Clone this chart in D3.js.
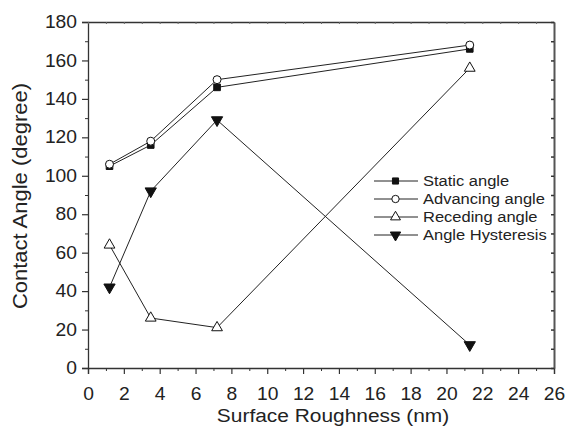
<!DOCTYPE html>
<html>
<head>
<meta charset="utf-8">
<script src="https://cdn.jsdelivr.net/npm/d3@7"></script>
<style>
  body { margin: 0; background: #fff; overflow: hidden; }
  svg { display: block; }
  text { font-family: "Liberation Sans", Arial, sans-serif; fill: #222; }
</style>
</head>
<body>
<svg></svg>
<script>
const width = 568, height = 430;

// data
const roughness = [1.2, 3.5, 7.2, 21.3];
const staticAngle = [105, 116, 146, 166];
const advancingAngle = [106, 118, 150, 168];
const recedingAngle = [64, 26, 21, 156];
const hysteresis = [42, 92, 129, 12];
const seriesNames = ["Static angle", "Advancing angle", "Receding angle", "Angle Hysteresis"];
const xTicks = d3.range(0, 27, 2);
const yTicks = d3.range(0, 181, 20);

const margin = {top: 22, left: 88, right: 14, bottom: 62};
const innerWidth = width - margin.left - margin.right;
const innerHeight = height - margin.top - margin.bottom;

const svg = d3.select("svg").attr("width", width).attr("height", height);
const g = svg.append("g").attr("transform", `translate(${margin.left},${margin.top})`);

const xScale = d3.scaleLinear().domain([0, 26]).range([0, innerWidth]);
const yScale = d3.scaleLinear().domain([0, 180]).range([innerHeight, 0]);

const axisColor = "#333";
const stretch = 1.1; // the source font is a bit wider than Liberation Sans

// minor ticks
const xMinor = d3.range(1, 26, 2);
const yMinor = d3.range(10, 180, 20);

const xAxis = d3.axisBottom(xScale).tickValues(xTicks).tickSize(6).tickPadding(14).tickFormat(d3.format("d"));
const yAxis = d3.axisLeft(yScale).tickValues(yTicks).tickSize(6).tickPadding(5).tickFormat(d3.format("d"));

const xAxisG = g.append("g").attr("transform", `translate(0,${innerHeight})`).call(xAxis);
const yAxisG = g.append("g").call(yAxis);
[xAxisG, yAxisG].forEach(a => {
  a.select(".domain").attr("stroke", axisColor).attr("stroke-width", 1.3);
  a.selectAll(".tick line").attr("stroke", axisColor).attr("stroke-width", 1.2);
  a.selectAll("text").style("font-size", "17.5px").attr("fill", "#222");
});
xAxisG.selectAll("text").attr("transform", `scale(${stretch},1)`);
yAxisG.selectAll("text").attr("x", -11 / stretch).attr("transform", `scale(${stretch},1)`);

// tick-only axes: drop the empty labels d3 makes
const noLabels = a => a.selectAll("text").remove();

g.append("g").attr("transform", `translate(0,${innerHeight})`)
  .call(d3.axisBottom(xScale).tickValues(xMinor).tickSize(3).tickFormat(""))
  .call(a => a.select(".domain").remove())
  .call(noLabels)
  .selectAll("line").attr("stroke", axisColor);
g.append("g")
  .call(d3.axisLeft(yScale).tickValues(yMinor).tickSize(3).tickFormat(""))
  .call(a => a.select(".domain").remove())
  .call(noLabels)
  .selectAll("line").attr("stroke", axisColor);

// top and right mirrored axes with small inner ticks
g.append("g")
  .call(d3.axisBottom(xScale).tickValues(d3.range(0, 27, 1)).tickSize(2).tickSizeOuter(0).tickFormat(""))
  .call(a => a.select(".domain").attr("stroke", axisColor).attr("stroke-width", 1.3))
  .call(noLabels)
  .selectAll("line").attr("stroke", "#666");
g.append("g").attr("transform", `translate(${innerWidth},0)`)
  .call(d3.axisLeft(yScale).tickValues(d3.range(0, 181, 10)).tickSize(3).tickSizeOuter(0).tickFormat(""))
  .call(a => a.select(".domain").attr("stroke", "#555").attr("stroke-width", 2))
  .call(noLabels)
  .selectAll("line").attr("stroke", "#333").attr("stroke-width", 1.5);

// axis titles
svg.append("text")
  .attr("transform", `translate(333,422) scale(${stretch},1)`)
  .attr("text-anchor", "middle")
  .style("font-size", "19px")
  .text("Surface Roughness (nm)");
svg.append("text")
  .attr("transform", `translate(27,${margin.top + innerHeight / 2 + 1}) rotate(-90) scale(${stretch},1)`)
  .attr("text-anchor", "middle")
  .style("font-size", "20px")
  .text("Contact Angle (degree)");

// series
const series = [
  {name: seriesNames[0], values: staticAngle, symbol: d3.symbolSquare, size: 44, fill: "#111"},
  {name: seriesNames[1], values: advancingAngle, symbol: d3.symbolCircle, size: 50, fill: "#fff"},
  {name: seriesNames[2], values: recedingAngle, symbol: d3.symbolTriangle, size: 50, fill: "#fff"},
  {name: seriesNames[3], values: hysteresis, symbol: d3.symbolTriangle, size: 55, fill: "#111", flip: true}
];

const line = d3.line().x(d => xScale(d[0])).y(d => yScale(d[1]));

series.forEach(s => {
  const pts = roughness.map((x, i) => [x, s.values[i]]);
  g.append("path").datum(pts)
    .attr("fill", "none").attr("stroke", "#222").attr("stroke-width", 1)
    .attr("d", line);
});

function drawSymbol(parent, s, x, y, k = 1) {
  parent.append("path")
    .attr("d", d3.symbol().type(s.symbol).size(s.size * k)())
    .attr("transform", `translate(${x},${y})` + (s.flip ? " rotate(180)" : ""))
    .attr("fill", s.fill).attr("stroke", "#111").attr("stroke-width", 1);
}

series.forEach(s => {
  roughness.forEach((x, i) => drawSymbol(g, s, xScale(x), yScale(s.values[i])));
});

// legend
const legend = svg.append("g").attr("transform", "translate(374,181)");
series.forEach((s, i) => {
  const row = legend.append("g").attr("transform", `translate(0,${i * 18})`);
  row.append("line").attr("x1", 0).attr("x2", 44).attr("y1", 0).attr("y2", 0)
    .attr("stroke", "#222").attr("stroke-width", 1);
  drawSymbol(row, s, 21.5, 0, 0.85);
  row.append("text").attr("transform", `translate(49,0) scale(${stretch},1)`).attr("dy", "0.35em")
    .style("font-size", "15px").text(s.name);
});
</script>
</body>
</html>
